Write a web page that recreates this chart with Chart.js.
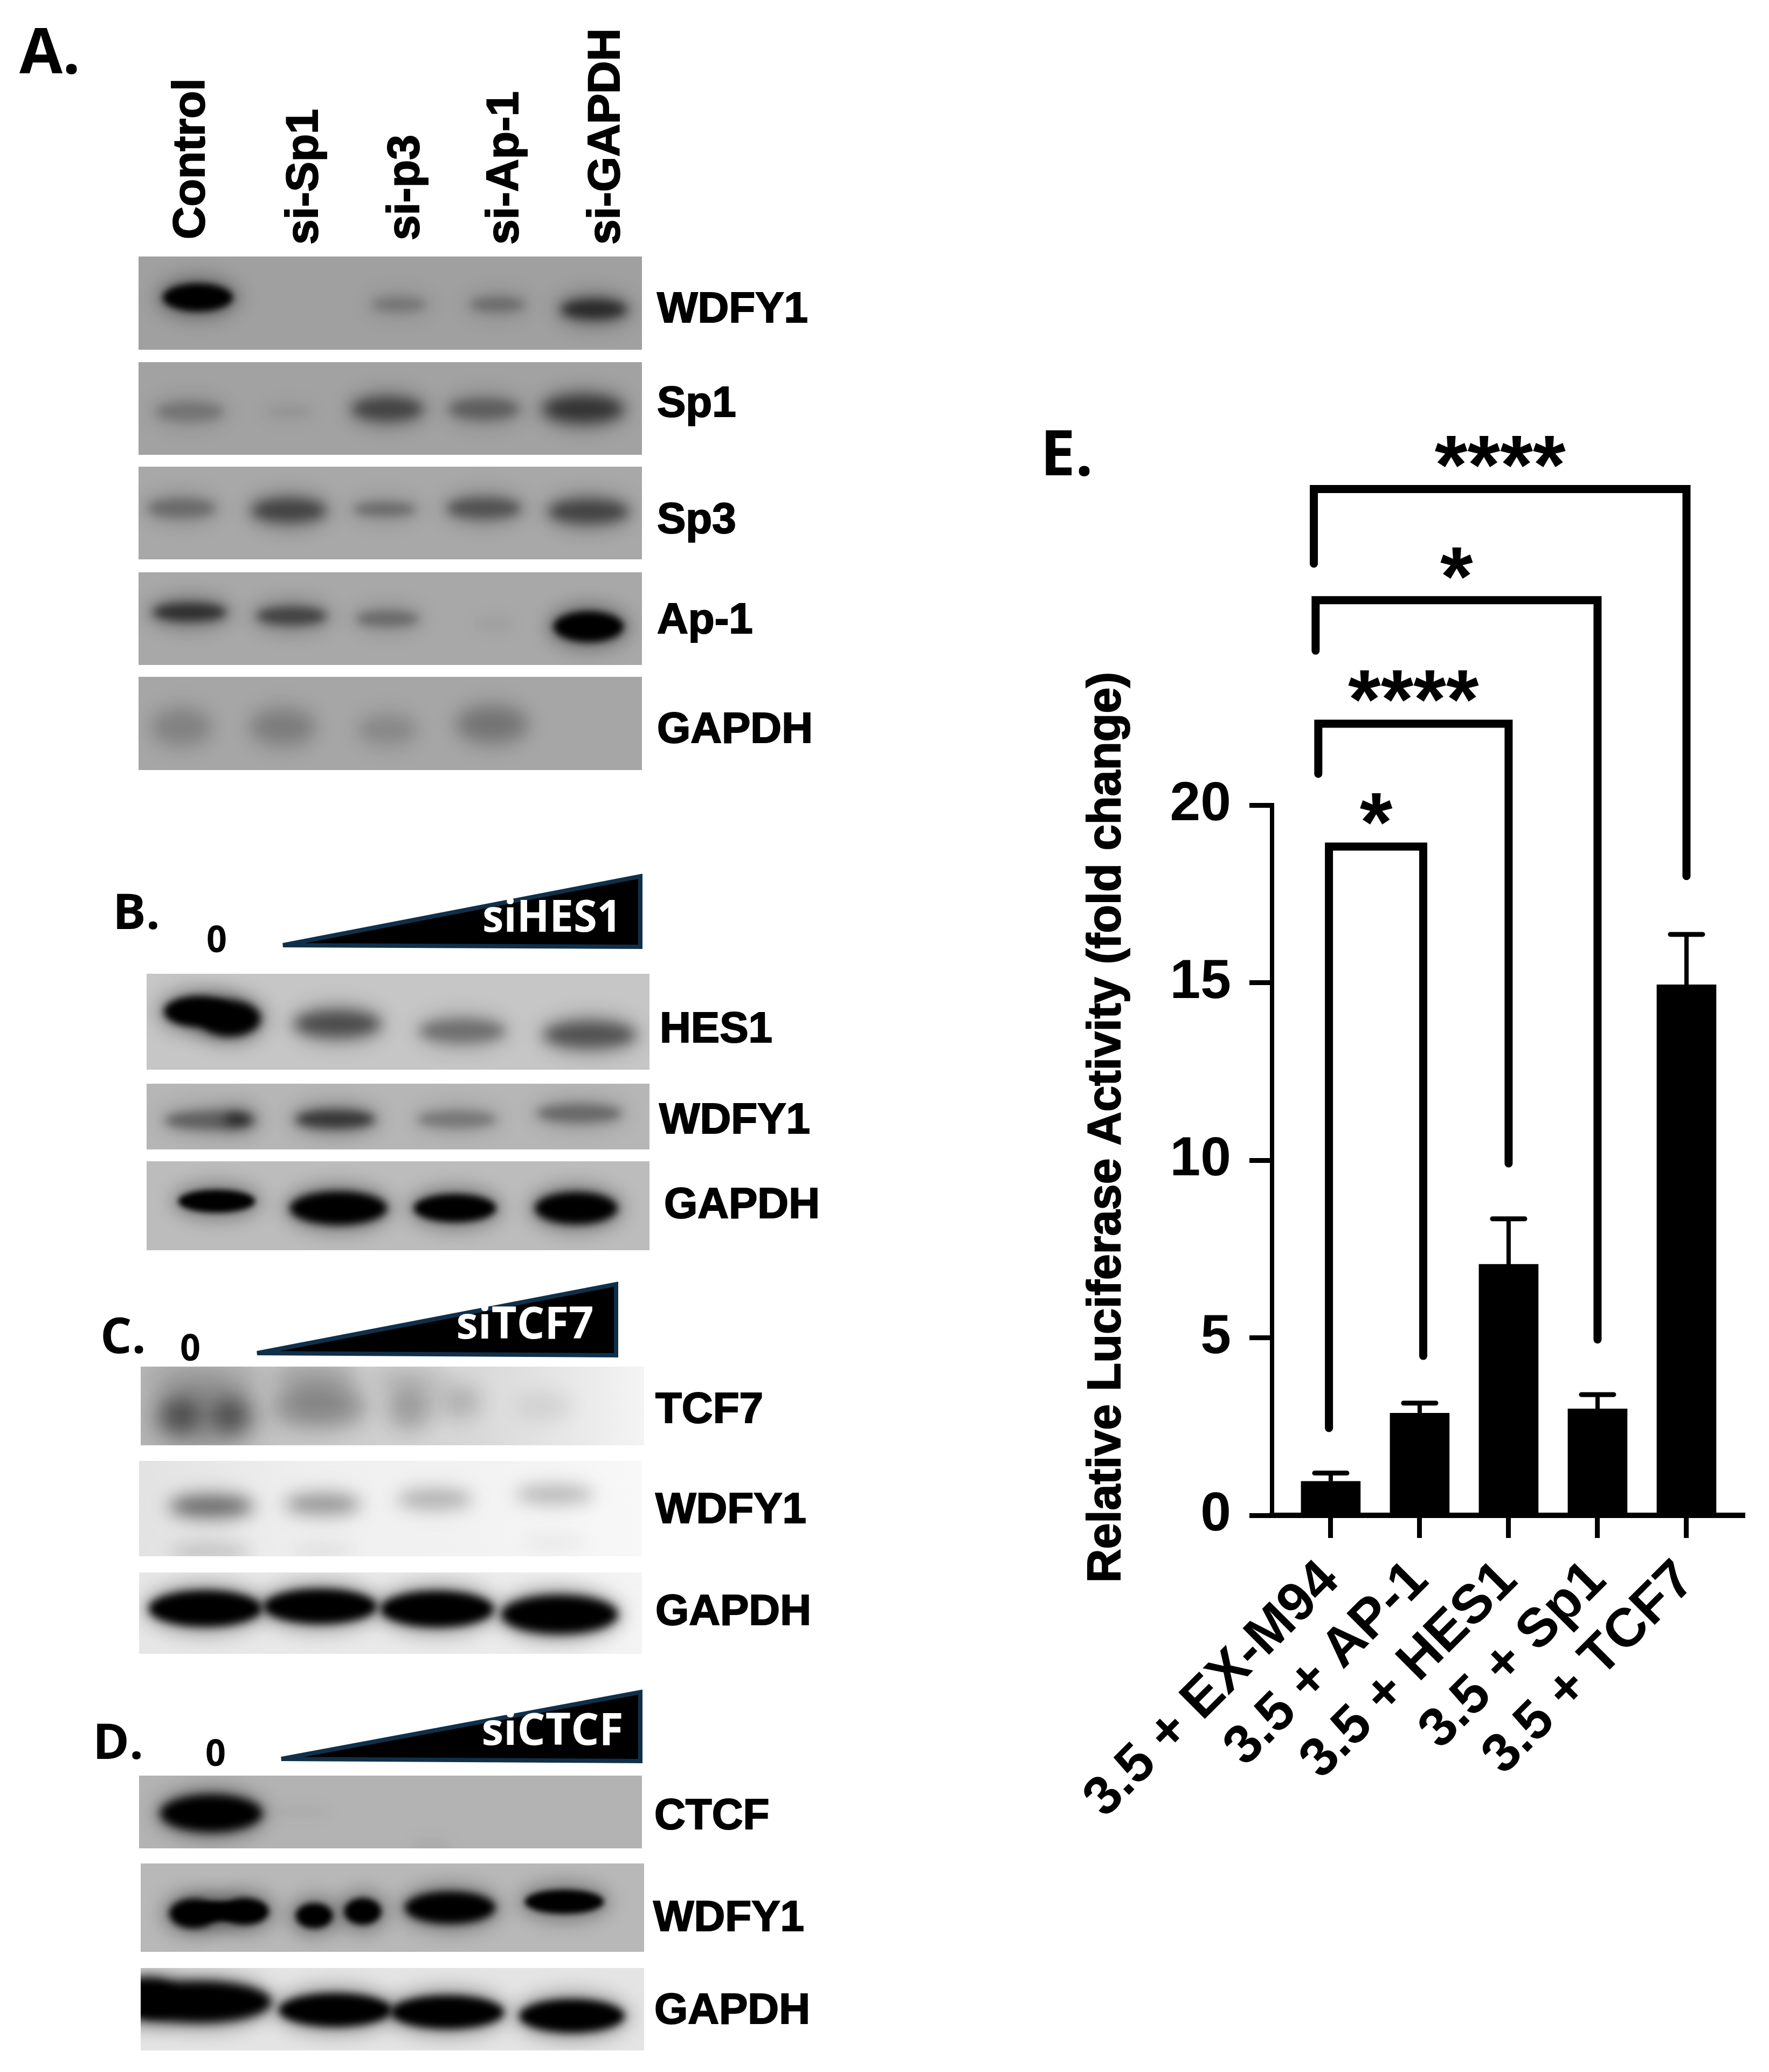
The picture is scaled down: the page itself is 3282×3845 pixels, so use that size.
<!DOCTYPE html>
<html>
<head>
<meta charset="utf-8">
<title>Relative Luciferase Activity</title>
<script src="https://cdn.jsdelivr.net/npm/chart.js@4"></script>
<style>
  html, body { margin: 0; padding: 0; background: #fff; }
  canvas { display: block; }
</style>
</head>
<body>
<canvas id="chart" width="3282" height="3845" style="width:3282px;height:3845px"></canvas>
<script>
// panel E values
const categories = ['3.5 + EX-M94', '3.5 + AP-1', '3.5 + HES1', '3.5 + Sp1', '3.5 + TCF7']
const foldChange = [0.96, 2.88, 7.07, 3.0, 14.94]
const errorUp = [0.23, 0.28, 1.28, 0.4, 1.42]
const yTickValues = [0, 5, 10, 15, 20]

// significance brackets, x in category units and y in fold change units
const bracketStars = ['*', '****', '*', '****']
const bracketFromX = [-0.02, -0.14, -0.17, -0.19]
const bracketToX = [1.04, 2.0, 3.0, 4.0]
const bracketTop = [18.83, 22.29, 25.77, 28.9]
const bracketFromEnd = [2.46, 20.88, 24.35, 26.8]
const bracketToEnd = [4.49, 9.91, 4.95, 18.0]
const bracketStarY = [19.88, 23.35, 26.8, 29.95]

const sansBold = '"Liberation Sans"'
const headBold = '"Open Sans"'

// western blots: label, box, background, bands as [cx, cy, rx, ry, darkness]
const blots = [
  { label: 'WDFY1', lx: 1219, ly: 576, box: [257, 476, 934, 173], bg: ['#a0a0a0'], bands: [
    [367, 552, 62, 21, 1], [740, 565, 48, 13, 0.24], [923, 565, 48, 13, 0.3], [1102, 574, 58, 17, 0.78],
  ] },
  { label: 'Sp1', lx: 1219, ly: 751, box: [257, 672, 934, 172], bg: ['#a2a2a2'], bands: [
    [352, 764, 60, 17, 0.26], [536, 764, 40, 11, 0.07], [719, 759, 62, 20, 0.58], [898, 759, 62, 18, 0.4], [1082, 759, 70, 22, 0.7],
  ] },
  { label: 'Sp3', lx: 1219, ly: 967, box: [257, 866, 934, 172], bg: ['#a8a8a8'], bands: [
    [337, 943, 60, 17, 0.34], [536, 947, 65, 20, 0.6], [714, 945, 55, 12, 0.34], [898, 943, 65, 18, 0.5], [1092, 949, 70, 20, 0.6],
  ] },
  { label: 'Ap-1', lx: 1219, ly: 1153, box: [257, 1062, 934, 172], bg: ['#a8a8a8'], bands: [
    [352, 1136, 65, 16, 0.75], [541, 1143, 62, 16, 0.6], [719, 1148, 55, 14, 0.34], [918, 1158, 30, 8, 0.05], [1092, 1163, 62, 23, 1],
  ] },
  { label: 'GAPDH', lx: 1219, ly: 1356, box: [257, 1256, 934, 173], bg: ['#a6a6a6'], bands: [
    [337, 1349, 50, 28, 0.2], [525, 1349, 55, 28, 0.22], [719, 1354, 50, 24, 0.15], [913, 1344, 60, 28, 0.28],
  ] },

  { label: 'HES1', lx: 1224, ly: 1912, box: [272, 1807, 933, 178], bg: ['#c6c6c6'], bands: [
    [367, 1877, 60, 23, 1], [427, 1890, 54, 27, 1], [626, 1900, 75, 22, 0.62], [858, 1913, 75, 20, 0.42], [1094, 1920, 80, 22, 0.58],
  ] },
  { label: 'WDFY1', lx: 1223, ly: 2081, box: [272, 2011, 933, 122], bg: ['#b6b6b6'], bands: [
    [390, 2079, 80, 16, 0.45], [441, 2077, 22, 11, 0.55], [622, 2077, 70, 16, 0.72], [848, 2077, 70, 15, 0.32], [1075, 2066, 75, 16, 0.4],
  ] },
  { label: 'GAPDH', lx: 1232, ly: 2238, box: [272, 2155, 933, 165], bg: ['#bcbcbc'], bands: [
    [402, 2229, 68, 17, 1], [628, 2242, 86, 25, 1], [844, 2242, 73, 21, 1], [1069, 2242, 73, 24, 1],
  ] },

  { label: 'TCF7', lx: 1216, ly: 2618, soft: 1.7, box: [261, 2536, 934, 146], bg: ['#b6b6b6', '#c8c8c8', '#d8d8d8', '#f4f4f4'], bands: [
    [381, 2628, 85, 40, 0.28], [335, 2627, 28, 20, 0.55], [427, 2627, 26, 20, 0.55], [381, 2560, 90, 24, 0.12],
    [594, 2609, 75, 25, 0.36], [585, 2553, 70, 20, 0.16],
    [760, 2613, 30, 24, 0.3], [853, 2601, 30, 20, 0.18], [760, 2560, 60, 18, 0.1],
    [1010, 2609, 45, 18, 0.07],
  ] },
  { label: 'WDFY1', lx: 1216, ly: 2804, soft: 1.6, box: [258, 2711, 933, 177], bg: ['#e2e2e2', '#efefef', '#f2f2f2', '#f8f8f8'], bands: [
    [392, 2795, 70, 15, 0.55], [599, 2791, 62, 14, 0.36], [807, 2782, 62, 13, 0.26], [1029, 2773, 65, 12, 0.24],
    [390, 2879, 65, 8, 0.18], [599, 2876, 50, 7, 0.07], [1029, 2862, 50, 8, 0.05],
  ] },
  { label: 'GAPDH', lx: 1216, ly: 2993, box: [258, 2918, 933, 151], bg: ['#e6e6e6', '#e8e8e8', '#eaeaea', '#f4f4f4'], bands: [
    [381, 2985, 100, 27, 1], [594, 2981, 100, 26, 1], [811, 2986, 100, 27, 1], [1038, 2996, 103, 29, 1],
  ] },

  { label: 'CTCF', lx: 1214, ly: 3372, box: [258, 3295, 933, 135], bg: ['#b3b3b3'], bands: [
    [392, 3365, 90, 28, 1], [560, 3362, 50, 7, 0.03], [800, 3428, 30, 6, 0.06],
  ] },
  { label: 'WDFY1', lx: 1212, ly: 3561, box: [261, 3458, 934, 164], bg: ['#b8b8b8'], bands: [
    [358, 3551, 42, 22, 1], [455, 3547, 42, 20, 1], [404, 3547, 40, 15, 1],
    [583, 3555, 33, 19, 1], [673, 3547, 33, 20, 1],
    [835, 3540, 80, 24, 1], [1047, 3529, 70, 18, 1],
  ] },
  { label: 'GAPDH', lx: 1214, ly: 3733, box: [261, 3652, 934, 153], bg: ['#e4e4e4'], bands: [
    [270, 3708, 60, 30, 1], [372, 3715, 125, 31, 1], [622, 3730, 100, 25, 1], [830, 3734, 100, 25, 1], [1061, 3741, 93, 25, 1],
  ] },
]

// lane titles of panel A, rotated
const laneTitles = [
  ['Control', 356, 444], ['si-Sp1', 566, 454], ['si-p3', 754, 446], ['si-Ap-1', 938, 454], ['si-GAPDH', 1126, 454],
]
const panelLetters = [
  ['A.', 36, 136, 116], ['B.', 209, 1724, 92], ['C.', 186, 2511, 92], ['D.', 172, 3264, 92], ['E.', 1930, 882, 116],
]
const zeroLabels = [[402, 1767], [353, 2525], [400, 3277]]
const wedges = [
  { text: 'siHES1', pts: [525, 1754, 1188, 1626, 1188, 1757], tx: 1024, ty: 1706, tw: 258 },
  { text: 'siTCF7', pts: [477, 2511, 1143, 2383, 1143, 2515], tx: 974, ty: 2461, tw: 255 },
  { text: 'siCTCF', pts: [522, 3264, 1188, 3140, 1188, 3268], tx: 1025, ty: 3215, tw: 263 },
]

function fillBand(ctx, cx, cy, rx, ry, dark, blur) {
  ctx.filter = `blur(${blur.toFixed(1)}px)`
  ctx.fillStyle = `rgba(0,0,0,${dark})`
  ctx.beginPath()
  ctx.ellipse(cx, cy, rx, ry, 0, 0, Math.PI * 2)
  ctx.fill()
}

function drawBlot(ctx, blot) {
  const [x, y, w, h] = blot.box
  const soft = blot.soft || 1
  ctx.save()
  ctx.beginPath()
  ctx.rect(x, y, w, h)
  ctx.clip()
  if (blot.bg.length > 1) {
    const grad = ctx.createLinearGradient(x, 0, x + w, 0)
    blot.bg.forEach((c, i) => grad.addColorStop(i / (blot.bg.length - 1), c))
    ctx.fillStyle = grad
  } else {
    ctx.fillStyle = blot.bg[0]
  }
  ctx.fillRect(x, y, w, h)
  blot.bands.forEach(([cx, cy, rx, ry, dark]) => {
    // soft halo first, then the core of the band
    fillBand(ctx, cx, cy, rx + 16, ry * 1.3 + 14, dark * 0.3, 16)
    if (dark === 1) {
      fillBand(ctx, cx, cy, rx * 1.05, ry * 1.25, 1, Math.max(5, ry * 0.3))
    } else {
      fillBand(ctx, cx, cy, rx * 1.05, ry * 1.1, dark * 0.85, Math.max(9, ry * 0.55) * soft)
    }
  })
  ctx.restore()
  ctx.fillStyle = '#000'
  ctx.strokeStyle = '#000'
  ctx.lineWidth = 2
  ctx.font = `bold 80px ${sansBold}`
  ctx.textAlign = 'left'
  ctx.textBaseline = 'middle'
  ctx.fillText(blot.label, blot.lx, blot.ly)
  ctx.strokeText(blot.label, blot.lx, blot.ly)
}

const blotPanels = {
  id: 'blotPanels',
  beforeDraw(chart) {
    const ctx = chart.ctx
    ctx.save()
    ctx.fillStyle = '#fff'
    ctx.fillRect(0, 0, chart.width, chart.height)
    blots.forEach((b) => drawBlot(ctx, b))

    ctx.fillStyle = '#000'
    ctx.textBaseline = 'alphabetic'
    ctx.textAlign = 'left'
    panelLetters.forEach(([t, x, y, size]) => {
      ctx.font = `bold ${size}px ${headBold}`
      ctx.fillText(t, x, y)
    })

    ctx.font = `bold 68px ${headBold}`
    ctx.textAlign = 'center'
    zeroLabels.forEach(([x, y]) => ctx.fillText('0', x, y, 38))

    wedges.forEach((w) => {
      const p = w.pts
      ctx.beginPath()
      ctx.moveTo(p[0], p[1])
      ctx.lineTo(p[2], p[3])
      ctx.lineTo(p[4], p[5])
      ctx.closePath()
      ctx.fillStyle = '#000'
      ctx.fill()
      ctx.strokeStyle = '#10304a'
      ctx.lineWidth = 8
      ctx.lineJoin = 'miter'
      ctx.stroke()
      ctx.fillStyle = '#fff'
      ctx.font = `bold 82px ${headBold}`
      ctx.textAlign = 'center'
      ctx.textBaseline = 'middle'
      ctx.fillText(w.text, w.tx, w.ty, w.tw)
    })

    ctx.fillStyle = '#000'
    ctx.strokeStyle = '#000'
    ctx.lineWidth = 2
    ctx.font = `bold 84px ${sansBold}`
    ctx.textAlign = 'left'
    ctx.textBaseline = 'middle'
    laneTitles.forEach(([t, x, y]) => {
      ctx.save()
      ctx.translate(x, y)
      ctx.rotate(-Math.PI / 2)
      ctx.fillText(t, 0, 0)
      ctx.strokeText(t, 0, 0)
      ctx.restore()
    })
    ctx.restore()
  },
}

const significance = {
  id: 'significance',
  afterDatasetsDraw(chart) {
    const ctx = chart.ctx
    const { x, y } = chart.scales
    ctx.save()
    ctx.strokeStyle = '#000'

    // error bars
    foldChange.forEach((v, i) => {
      const px = x.getPixelForValue(i)
      const top = y.getPixelForValue(v + errorUp[i])
      ctx.lineCap = 'butt'
      ctx.lineWidth = 8
      ctx.beginPath()
      ctx.moveTo(px, y.getPixelForValue(v))
      ctx.lineTo(px, top)
      ctx.stroke()
      ctx.lineCap = 'round'
      ctx.lineWidth = 9
      ctx.beginPath()
      ctx.moveTo(px - 30, top)
      ctx.lineTo(px + 30, top)
      ctx.stroke()
    })

    // brackets
    bracketStars.forEach((stars, i) => {
      const x0 = x.getPixelForValue(bracketFromX[i])
      const x1 = x.getPixelForValue(bracketToX[i])
      ctx.lineCap = 'round'
      ctx.lineJoin = 'miter'
      ctx.lineWidth = 15
      ctx.beginPath()
      ctx.moveTo(x0, y.getPixelForValue(bracketFromEnd[i]))
      ctx.lineTo(x0, y.getPixelForValue(bracketTop[i]))
      ctx.lineTo(x1, y.getPixelForValue(bracketTop[i]))
      ctx.lineTo(x1, y.getPixelForValue(bracketToEnd[i]))
      ctx.stroke()

      ctx.fillStyle = '#000'
      ctx.font = `bold 156px ${sansBold}`
      ctx.textAlign = 'center'
      ctx.textBaseline = 'alphabetic'
      const m = ctx.measureText(stars)
      const sy = y.getPixelForValue(bracketStarY[i]) + (m.actualBoundingBoxAscent - m.actualBoundingBoxDescent) / 2
      ctx.fillText(stars, (x0 + x1) / 2, sy)
    })

    // y axis title
    ctx.font = `bold 88px ${sansBold}`
    ctx.textAlign = 'center'
    ctx.lineWidth = 2
    ctx.translate(2078, 2092)
    ctx.rotate(-Math.PI / 2)
    ctx.fillText('Relative Luciferase Activity (fold change)', 0, 0, 1690)
    ctx.strokeText('Relative Luciferase Activity (fold change)', 0, 0, 1690)
    ctx.restore()
  },
}

const ctx = document.getElementById('chart').getContext('2d')
new Chart(ctx, {
  type: 'bar',
  data: {
    datasets: [{
      data: foldChange.map((v, i) => ({ x: i, y: v })),
      backgroundColor: '#000',
      barThickness: 110,
    }],
  },
  options: {
    responsive: false,
    animation: false,
    devicePixelRatio: 1,
    layout: { padding: { left: 2012, top: 1494, right: 45, bottom: 0 } },
    plugins: { legend: { display: false }, tooltip: { enabled: false } },
    scales: {
      x: {
        type: 'linear',
        min: -0.66,
        max: 4.655,
        offset: false,
        afterBuildTicks: (scale) => { scale.ticks = categories.map((c, i) => ({ value: i })) },
        afterFit: (scale) => { scale.height = 1033 },
        border: { color: '#000', width: 10 },
        grid: { offset: false, drawOnChartArea: false, color: '#000', tickColor: '#000', tickLength: 42, tickWidth: 9 },
        ticks: {
          autoSkip: false,
          minRotation: 45,
          maxRotation: 45,
          padding: 20,
          color: '#000',
          font: { family: sansBold, weight: 'bold', size: 101 },
          callback: (v) => categories[v],
        },
      },
      y: {
        min: 0,
        max: 20,
        afterBuildTicks: (scale) => { scale.ticks = yTickValues.map((v) => ({ value: v })) },
        afterFit: (scale) => { scale.width = 348 },
        border: { color: '#000', width: 8 },
        grid: { drawOnChartArea: false, color: '#000', tickColor: '#000', tickLength: 42, tickWidth: 9 },
        ticks: {
          padding: 34,
          color: '#000',
          font: { family: sansBold, weight: 'bold', size: 102 },
        },
      },
    },
  },
  plugins: [blotPanels, significance],
})
</script>
</body>
</html>
